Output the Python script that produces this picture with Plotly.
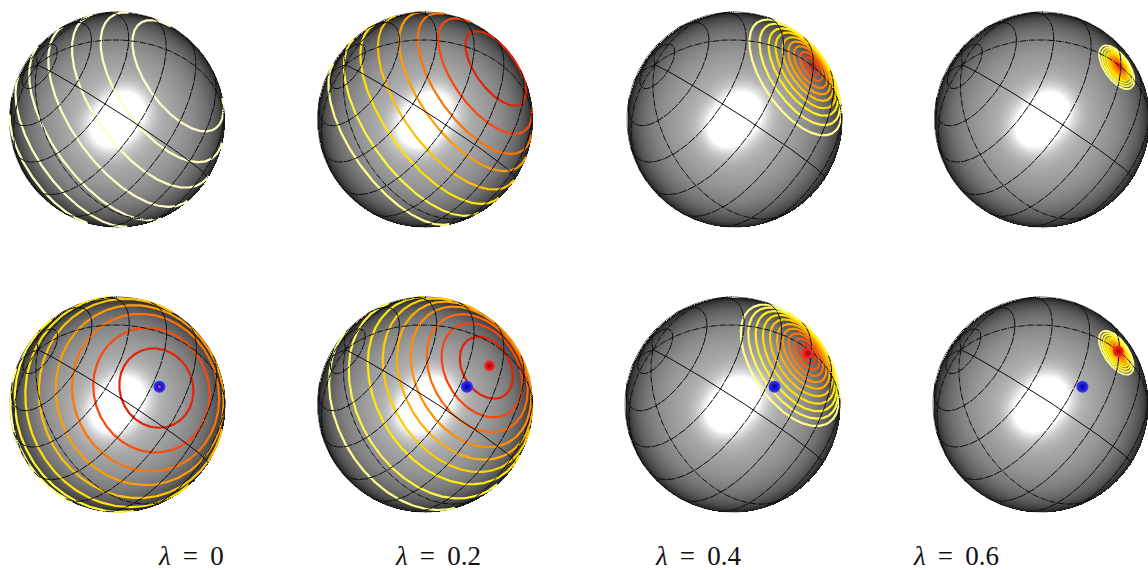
"""
Eight shaded spheres with contour rings around a peak, for growing lambda.
Top row has rings only, bottom row also has the blue and red dots.
"""

import numpy as np
import plotly.graph_objects as go
from plotly.colors import sample_colorscale

# Labels under each column
lambda_values = ['0', '0.2', '0.4', '0.6']

# Peak direction on the unit sphere (right, up)
top_peaks = [(0.71, 0.51), (0.72, 0.52), (0.725, 0.50), (0.715, 0.50)]
bottom_peaks = [(0.39, 0.165), (0.60, 0.36), (0.70, 0.476), (0.725, 0.495)]
blue_dot = (0.39, 0.165)

# Contour ring radii in degrees around the peak, innermost first
top_rings = [
    [37, 54, 70, 85, 100, 116, 133],
    [24, 39, 50, 60, 72, 83, 95, 110],
    [2, 5.5, 9, 13, 16.5, 20, 24, 28, 33, 38.5],
    [1, 2, 3, 4, 5, 6, 7, 8, 9, 10.5, 12, 13.6],
]
bottom_rings = [
    [22, 36, 48, 58, 70, 82, 96, 108],
    [18, 28, 36, 44.5, 52, 60, 69, 82, 100],
    [3, 6, 9.5, 13, 16.5, 20, 24, 28, 32, 36, 40],
    [1, 2, 3, 4, 5, 6, 7, 8, 9, 10.5, 12, 13.6],
]

# Coordinate grid of the spheres: pole, latitude circles and meridian angles
grid_pole = (-0.74, 0.51)
grid_latitudes = [14, 34, 54, 75, 95, 115, 135, 155]
grid_meridians = [0, 51.4, 102.8, 154.3, 205.7, 257.1, 308.6]
solid_meridian_dir = (0.392, -0.184, 0.90)

# Layout in pixels
R = 107.5
top_centers = [(117, 119.5), (425, 119.5), (734.5, 119.5), (1042, 119.5)]
bottom_centers = [(117.5, 404.5), (425, 404.5), (732.5, 404.5), (1040.5, 404.5)]
label_x = [191, 438, 698, 956]
ring_widths = [2.2, 2.2, 2.2, 1.8]

RING_SCALE = [[0, '#e02408'], [0.15, '#fc4a0c'], [0.35, '#ff8800'],
              [0.55, '#ffbc00'], [0.75, '#ffec00'], [1, '#ffff8c']]


def unit(right, up):
    return np.array([right, up, np.sqrt(max(1 - right**2 - up**2, 0))])


def circle_points(axis, angle_deg, n=361):
    # small circle at angle_deg around axis
    helper = np.array([0.0, 0.0, 1.0]) if abs(axis[2]) < 0.9 else np.array([1.0, 0.0, 0.0])
    e1 = np.cross(axis, helper)
    e1 /= np.linalg.norm(e1)
    e2 = np.cross(axis, e1)
    t = np.linspace(0, 2 * np.pi, n)
    a = np.radians(angle_deg)
    return (np.cos(a) * axis[:, None]
            + np.sin(a) * (e1[:, None] * np.cos(t) + e2[:, None] * np.sin(t)))


def to_screen(pts, center):
    # front side only, the back of the sphere stays hidden
    x = center[0] + R * pts[0]
    y = center[1] - R * pts[1]
    x = np.where(pts[2] >= 0, x, np.nan)
    y = np.where(pts[2] >= 0, y, np.nan)
    return x, y


def shade(center):
    xs = np.arange(np.floor(center[0] - R), np.ceil(center[0] + R) + 1)
    ys = np.arange(np.floor(center[1] - R), np.ceil(center[1] + R) + 1)
    gx, gy = np.meshgrid((xs - center[0]) / R, (center[1] - ys) / R)
    rr = gx**2 + gy**2
    nz = np.sqrt(np.clip(1 - rr, 0, 1))
    spec = 0
    for lx, ly in [(0.08, 0.09), (-0.08, -0.08)]:
        lz = np.sqrt(1 - lx**2 - ly**2)
        spec = spec + 0.6 * np.clip(gx * lx + gy * ly + nz * lz, 0, 1)**50
    z = np.clip(0.72 * nz**0.85 + spec, 0, 1)
    z[rr > 1] = np.nan
    return xs, ys, z


def add_sphere(fig, center, peak, rings, ring_colors, ring_width, dots):
    xs, ys, z = shade(center)
    fig.add_trace(go.Heatmap(x=xs, y=ys, z=z, zmin=0, zmax=1, showscale=False,
                             colorscale=[[0, '#000000'], [1, '#ffffff']], hoverinfo='skip'))

    # rim, keeps the pixel edge of the heatmap from looking rough
    t = np.linspace(0, 2 * np.pi, 361)
    fig.add_trace(go.Scatter(x=center[0] + R * np.cos(t), y=center[1] + R * np.sin(t), mode='lines',
                             line=dict(color='rgba(40,40,40,0.75)', width=1), hoverinfo='skip'))

    # contour rings
    axis = unit(*peak)
    for ang, col in zip(rings, ring_colors):
        x, y = to_screen(circle_points(axis, ang), center)
        fig.add_trace(go.Scatter(x=x, y=y, mode='lines', line=dict(color=col, width=ring_width),
                                 hoverinfo='skip'))

    # grid on top of the rings
    pole = unit(*grid_pole)
    for lat in grid_latitudes:
        x, y = to_screen(circle_points(pole, lat), center)
        fig.add_trace(go.Scatter(x=x, y=y, mode='lines', hoverinfo='skip',
                                 line=dict(color='#0c0c0c', width=1.0, dash='9px,1px')))
    d0 = np.array(solid_meridian_dir)
    d0 = d0 - d0.dot(pole) * pole
    d0 /= np.linalg.norm(d0)
    d1 = np.cross(pole, d0)
    a = np.linspace(0, np.pi, 181)
    for m in grid_meridians:
        mr = np.radians(m)
        tang = d0 * np.cos(mr) + d1 * np.sin(mr)
        pts = pole[:, None] * np.cos(a) + tang[:, None] * np.sin(a)
        x, y = to_screen(pts, center)
        fig.add_trace(go.Scatter(x=x, y=y, mode='lines', hoverinfo='skip',
                                 line=dict(color='#0c0c0c', width=1.0,
                                           dash='solid' if m == 0 else '6px,1px,1px,1px')))

    # red peak dot and blue dot
    if dots:
        rx, ry = center[0] + R * peak[0], center[1] - R * peak[1]
        bx, by = center[0] + R * blue_dot[0], center[1] - R * blue_dot[1]
        same_spot = peak == blue_dot
        if not same_spot:
            fig.add_trace(go.Scatter(x=[rx], y=[ry], mode='markers', hoverinfo='skip',
                                     marker=dict(size=11, color='#ff3030',
                                                 gradient=dict(type='radial', color='#a80000'),
                                                 line=dict(width=0))))
        fig.add_trace(go.Scatter(x=[bx], y=[by], mode='markers', hoverinfo='skip',
                                 marker=dict(size=12, color='#3838ff',
                                             gradient=dict(type='radial', color='#0000a0'),
                                             line=dict(width=0))))
        if same_spot:
            fig.add_trace(go.Scatter(x=[rx], y=[ry], mode='markers', hoverinfo='skip',
                                     marker=dict(size=3, color='#e04090', line=dict(width=0))))


def ring_colors(rings):
    n = len(rings)
    return sample_colorscale(RING_SCALE, [i / (n - 1) for i in range(n)], colortype='rgb')


fig = go.Figure()

for i in range(4):
    cols = ['#ffffc4'] * len(top_rings[i]) if i == 0 else ring_colors(top_rings[i])
    add_sphere(fig, top_centers[i], top_peaks[i], top_rings[i], cols, ring_widths[i], False)
    add_sphere(fig, bottom_centers[i], bottom_peaks[i], bottom_rings[i], ring_colors(bottom_rings[i]),
               ring_widths[i], True)

for x, val in zip(label_x, lambda_values):
    fig.add_annotation(x=x, y=555.5, text=f'<i>λ</i>\u2009 = \u2009{val}', showarrow=False,
                       font=dict(family='Liberation Serif', size=27, color='#111111'))

fig.update_layout(
    width=1148, height=570, autosize=False,
    margin=dict(l=0, r=0, t=0, b=0),
    plot_bgcolor='white', paper_bgcolor='white',
    showlegend=False,
    xaxis=dict(range=[0, 1148], visible=False, fixedrange=True),
    yaxis=dict(range=[570, 0], visible=False, fixedrange=True),
)

fig.write_html("out.html", config=dict(displayModeBar=False),
               post_script="document.body.style.margin='0';document.body.style.overflow='hidden';")
